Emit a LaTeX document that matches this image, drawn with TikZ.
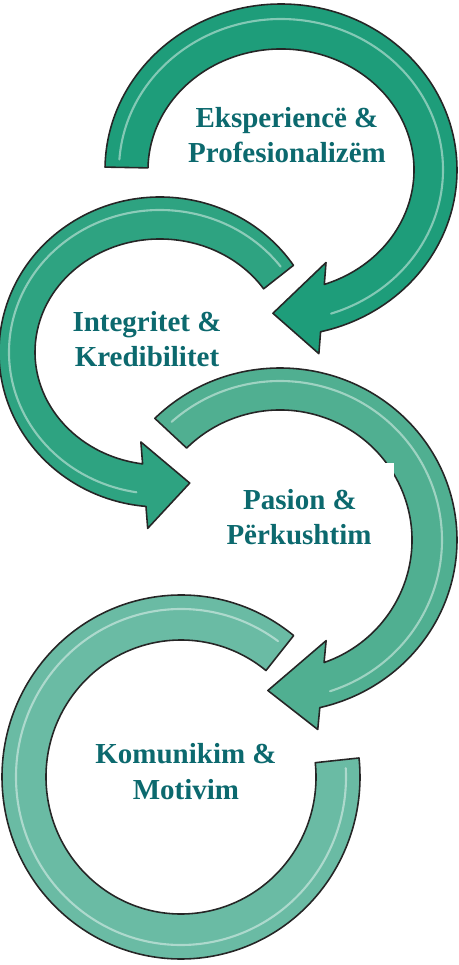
\documentclass[tikz,border=0pt]{standalone}
\usepackage{fontspec}
\setmainfont{Liberation Serif}
\usepackage{tikz}
\usetikzlibrary{calc}

\definecolor{ringa}{RGB}{30,157,122}
\definecolor{ringb}{RGB}{46,163,129}
\definecolor{ringc}{RGB}{80,175,145}
\definecolor{ringd}{RGB}{106,187,164}
\definecolor{txtcol}{RGB}{12,105,110}

\begin{document}
\begin{tikzpicture}[x=0.02cm, y=0.02cm]

\tikzstyle{ring} = [draw=black!85, line width=0.9pt, line join=round];
\tikzstyle{gloss} = [white, opacity=0.45, line width=1.2pt, line cap=round];
\tikzstyle{txt} = [font=\fontsize{16.5}{20}\selectfont\bfseries, text=txtcol, inner sep=0pt, anchor=base];

\useasboundingbox (0,0) rectangle (459,965);
\clip (0,0) rectangle (459,965);

% ring 1 (top, clockwise)
\coordinate(c1) at (281,795);
\coordinate(jo1) at ($(c1)+(-77:176 and 166)$);
\coordinate(ji1) at ($(c1)+(-71:133 and 121)$);
\coordinate(tip1) at ($(c1)+(-93:154.5 and 143.5)$);
\coordinate(bo1) at ($(jo1)!-0.44cm!(ji1)$);
\coordinate(bi1) at ($(ji1)!-0.44cm!(jo1)$);
\draw[ring, fill=ringa] ($(c1)+(179:176 and 166)$) arc[start angle=179, end angle=-77, x radius=176, y radius=166]
  -- (bo1) -- (tip1) -- (bi1) -- (ji1) arc[start angle=-71, end angle=179, x radius=133, y radius=121] -- cycle;
\draw[gloss] ($(c1)+(176:162 and 151)$) arc[start angle=176, end angle=-72, x radius=162, y radius=151];

% ring 2 (counter clockwise)
\coordinate(c2) at (160,613);
\coordinate(jo2) at ($(c2)+(265:161 and 155)$);
\coordinate(ji2) at ($(c2)+(262:125 and 113)$);
\coordinate(tip2) at ($(c2)+(282:143 and 134)$);
\coordinate(bo2) at ($(jo2)!-0.44cm!(ji2)$);
\coordinate(bi2) at ($(ji2)!-0.44cm!(jo2)$);
\draw[ring, fill=ringb] ($(c2)+(34:161 and 155)$) arc[start angle=34, end angle=265, x radius=161, y radius=155]
  -- (bo2) -- (tip2) -- (bi2) -- (ji2) arc[start angle=262, end angle=34, x radius=125, y radius=113] -- cycle;
\draw[gloss] ($(c2)+(37:151 and 142)$) arc[start angle=37, end angle=261, x radius=151, y radius=142];

% ring 3 (clockwise)
\coordinate(c3) at (280,425);
\coordinate(jo3) at ($(c3)+(-77:177 and 172)$);
\coordinate(ji3) at ($(c3)+(-70.5:132 and 130)$);
\coordinate(tip3) at ($(c3)+(-94.5:154.5 and 151)$);
\coordinate(bo3) at ($(jo3)!-0.44cm!(ji3)$);
\coordinate(bi3) at ($(ji3)!-0.44cm!(jo3)$);
\draw[ring, fill=ringc] ($(c3)+(135:177 and 172)$) arc[start angle=135, end angle=-77, x radius=177, y radius=172]
  -- (bo3) -- (tip3) -- (bi3) -- (ji3) arc[start angle=-70.5, end angle=135, x radius=132, y radius=130] -- cycle;
\draw[gloss] ($(c3)+(132:162 and 159)$) arc[start angle=132, end angle=-72, x radius=162, y radius=159];
\fill[white] (378,480) rectangle (394,502);

% ring 4 (bottom, flat end)
\coordinate(c4) at (181,188);
\draw[ring, fill=ringd] ($(c4)+(51:179 and 182)$) arc[start angle=51, end angle=366, x radius=179, y radius=182]
  -- ($(c4)+(366:135 and 137)$) arc[start angle=366, end angle=51, x radius=135, y radius=137] -- cycle;
\draw[gloss] ($(c4)+(54:165 and 168)$) arc[start angle=54, end angle=363, x radius=165, y radius=168];

\node(expA) [txt] at (287,837) {Eksperiencë \&};
\node(expB) [txt] at (287,802) {Profesionalizëm};
\node(intA) [txt] at (147,633) {Integritet \&};
\node(intB) [txt] at (147,598) {Kredibilitet};
\node(pasA) [txt] at (300,455) {Pasion \&};
\node(pasB) [txt] at (299,420) {Përkushtim};
\node(komA) [txt] at (186,201) {Komunikim \&};
\node(komB) [txt] at (186,165) {Motivim};

\end{tikzpicture}
\end{document}
